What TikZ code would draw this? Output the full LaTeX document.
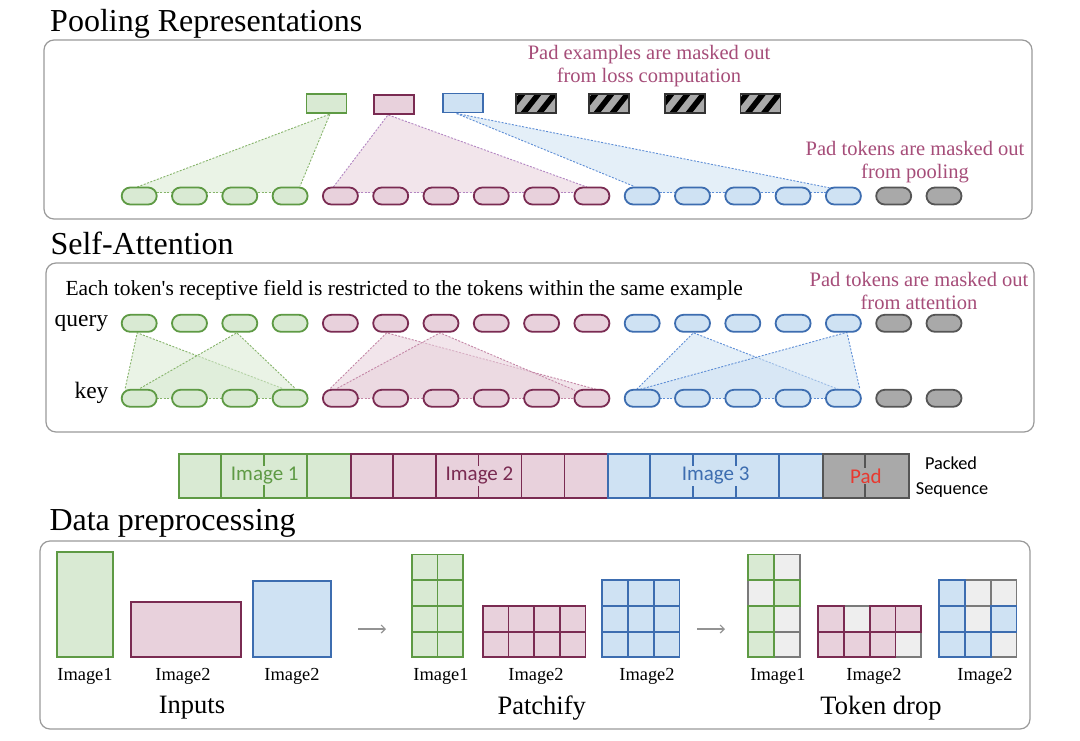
\documentclass[tikz,border=0pt]{standalone}
\usepackage{fontspec}
\setmainfont{Liberation Serif}
\newfontfamily\calfont{Carlito}
\usetikzlibrary{calc,arrows.meta}
\pgfdeclarelayer{bg}
\pgfsetlayers{bg,main}
\definecolor{gF}{HTML}{D9EAD3}
\definecolor{gD}{HTML}{5E9A44}
\definecolor{pF}{HTML}{E8D1DC}
\definecolor{pD}{HTML}{7A2B52}
\definecolor{bF}{HTML}{CFE2F3}
\definecolor{bD}{HTML}{3D6DB0}
\definecolor{xF}{HTML}{A9A9A9}
\definecolor{xD}{HTML}{555555}
\definecolor{notec}{HTML}{A64D79}
\definecolor{panelc}{HTML}{9A9A9A}
\definecolor{dF}{HTML}{EEEEEE}
\definecolor{dD}{HTML}{7A7A7A}
\definecolor{padred}{HTML}{E8392F}
\definecolor{gL}{HTML}{86B46A}
\definecolor{pL}{HTML}{B386C2}
\definecolor{pL2}{HTML}{C486A6}
\definecolor{bL}{HTML}{5E8ED6}
\newcommand\fsz[2]{\fontsize{#1}{#2}\selectfont}
\newcommand\tri[6]{%
  \fill[#1,fill opacity=.55] (#3) -- (#4) -- (#4|-#6) -- (#5|-#6) -- (#5) -- cycle;
  \draw[#2,dl] (#4) -- (#3) -- (#5);}
\newcommand\pgrid[6]{%
  \foreach \c in {1,...,#3} \foreach \r in {1,...,#4}
    \draw[#6, fill=#5, line width=1.8pt] ({#1+(\c-1)*25.7},{#2+(\r-1)*25.7}) rectangle ++(25.7,25.7);}
\begin{document}
\begin{tikzpicture}[x=1pt,y=-1pt,
  panel/.style={draw=panelc, line width=1.2pt, rounded corners=10pt},
  tok/.style={minimum width=35pt, minimum height=17pt, rounded corners=8.5pt, line width=1.8pt, inner sep=0pt, outer sep=0pt},
  tg/.style={tok, fill=gF, draw=gD},
  tp/.style={tok, fill=pF, draw=pD},
  tb/.style={tok, fill=bF, draw=bD},
  tx/.style={tok, fill=xF, draw=xD},
  dl/.style={dash pattern=on 2pt off 1.5pt, line width=0.9pt},
  note/.style={text=notec, align=center, font=\fsz{20.5}{22.5}},
  title/.style={anchor=base west, font=\fsz{32}{36}},
  lbl/.style={font=\fsz{18.4}{20}},
  big/.style={font=\fsz{26.5}{30}},
  top/.style={minimum width=40pt, minimum height=19pt, line width=1.7pt, inner sep=0pt},
  hatch/.style={draw=black!80, fill=xF, minimum width=40pt, minimum height=19pt, line width=1.2pt, inner sep=0pt,
    path picture={\foreach \k in {-1,0,1} \fill[black] ($(path picture bounding box.south west)+(\k*16+4,0)$) -- ++(7,0) -- ++(15,-19) -- ++(-7,0) -- cycle;}},
  seg/.style={line width=1.8pt, minimum height=44pt, inner sep=0pt, anchor=north west},
  seglbl/.style={font=\calfont\fsz{21}{24}, inner sep=1pt},
  arr/.style={-{Straight Barb[length=4pt,width=8pt]}, draw=gray!85, line width=1.2pt}
]
\useasboundingbox (0,0) rectangle (1080,740);
\begin{pgfonlayer}{bg}
  \fill[white] (0,0) rectangle (1080,740);
  \draw[panel] (44,40) rectangle (1032,219);
  \draw[panel] (46,263) rectangle (1034,432);
  \draw[panel] (40,541) rectangle (1030,729);
\end{pgfonlayer}

% titles
\node[title] (t1) at (46.7,31.7) {Pooling Representations};
\node[title] (t2) at (47,254.7) {Self-Attention};
\node[title] (t3) at (46,530) {Data preprocessing};

% ---------- pooling ----------
\node[note] (n1) at (649,66) {Pad examples are masked out\\from loss computation};
\node[note] (n2) at (915,162) {Pad tokens are masked out\\from pooling};
\node[top, draw=gD, fill=gF] (gtop) at (326.5,103.7) {};
\node[top, draw=pD, fill=pF] (ptop) at (393.7,104.5) {};
\node[top, draw=bD, fill=bF] (btop) at (462.7,103) {};
\node[hatch] (h1) at (536,103.5) {};
\node[hatch] (h2) at (609,103.5) {};
\node[hatch] (h3) at (685,103.5) {};
\node[hatch] (h4) at (760.4,103.5) {};

\foreach \i in {1,...,4}   \node[tg] (p\i) at ({139.2+50.3*(\i-1)},196) {};
\foreach \i in {5,...,10}  \node[tp] (p\i) at ({139.2+50.3*(\i-1)},196) {};
\foreach \i in {11,...,15} \node[tb] (p\i) at ({139.2+50.3*(\i-1)},196) {};
\foreach \i in {16,17}     \node[tx] (p\i) at ({139.2+50.3*(\i-1)},196) {};

\coordinate (pb) at ($(p1)+(0,-3.5)$);
\coordinate (gA) at ($(gtop.south)+(3.5,0)$);
\coordinate (gLp) at ($(p1)+(-2,-9)$);
\coordinate (gRp) at ($(p4)+(10,-10)$);
\coordinate (pA) at ($(ptop.south)+(-5.7,0)$);
\coordinate (pLp) at ($(p5)+(-7,-9)$);
\coordinate (pRp) at ($(p10)+(-5,-9)$);
\coordinate (bA) at ($(btop.south)+(-6.7,0)$);
\coordinate (bLp) at ($(p11)+(-9,-10)$);
\coordinate (bRp) at ($(p15)+(-13,-8)$);
\begin{pgfonlayer}{bg}
  \tri{gF}{gL}{gA}{gLp}{gRp}{pb}
  \tri{pF}{pL}{pA}{pLp}{pRp}{pb}
  \tri{bF}{bL}{bA}{bLp}{bRp}{pb}
  \draw[gL,dl] (p1|-pb) -- (p4|-pb);
  \draw[pL,dl] (p5|-pb) -- (p10|-pb);
  \draw[bL,dl] (p11|-pb) -- (p15|-pb);
\end{pgfonlayer}

% ---------- self-attention ----------
\node[anchor=base west, font=\fsz{21.5}{24}] (s1) at (62,295) {Each token\textquotesingle s receptive field is restricted to the tokens within the same example};
\node[note] (n3) at (919,291) {Pad tokens are masked out\\from attention};
\node[anchor=base east, font=\fsz{23.5}{26}] (qlab) at (111.7,326.7) {query};
\node[anchor=base east, font=\fsz{23.5}{26}] (klab) at (112,398.3) {key};

\foreach \i in {1,...,4}   {\node[tg] (q\i) at ({139.2+50.3*(\i-1)},323.3) {}; \node[tg] (k\i) at ({139.2+50.3*(\i-1)},398.3) {};}
\foreach \i in {5,...,10}  {\node[tp] (q\i) at ({139.2+50.3*(\i-1)},323.3) {}; \node[tp] (k\i) at ({139.2+50.3*(\i-1)},398.3) {};}
\foreach \i in {11,...,15} {\node[tb] (q\i) at ({139.2+50.3*(\i-1)},323.3) {}; \node[tb] (k\i) at ({139.2+50.3*(\i-1)},398.3) {};}
\foreach \i in {16,17}     {\node[tx] (q\i) at ({139.2+50.3*(\i-1)},323.3) {}; \node[tx] (k\i) at ({139.2+50.3*(\i-1)},398.3) {};}

\coordinate (aG1) at ($(q1.south)+(-2,1)$);
\coordinate (lG1) at ($(k1)+(-14,-10)$);
\coordinate (rG1) at ($(k4)+(-8,-10)$);
\coordinate (aG2) at ($(q3.south)+(-3,1)$);
\coordinate (lG2) at ($(k1)+(1,-10)$);
\coordinate (rG2) at ($(k4)+(5,-10)$);
\coordinate (aP1) at ($(q6.south)+(-4,1)$);
\coordinate (lP1) at ($(k5)+(-10,-10)$);
\coordinate (rP1) at ($(k10)+(8,-8)$);
\coordinate (aP2) at ($(q7.south)+(-1,1)$);
\coordinate (lP2) at ($(k5)+(-3,-10)$);
\coordinate (rP2) at ($(k10)+(-17,-8)$);
\coordinate (aB1) at ($(q12.south)+(1,1)$);
\coordinate (lB1) at ($(k11)+(-5.5,-9)$);
\coordinate (rB1) at ($(k15)+(-5,-9)$);
\coordinate (aB2) at ($(q15.south)+(3.5,0.5)$);
\coordinate (lB2) at ($(k11)+(-2,-9)$);
\coordinate (rB2) at ($(k15)+(16.5,-9)$);
\begin{pgfonlayer}{bg}
  \tri{gF}{gL}{aG1}{lG1}{rG1}{k1}
  \tri{gF}{gL}{aG2}{lG2}{rG2}{k1}
  \tri{pF}{pL2}{aP1}{lP1}{rP1}{k1}
  \tri{pF}{pL2}{aP2}{lP2}{rP2}{k1}
  \tri{bF}{bL}{aB1}{lB1}{rB1}{k1}
  \tri{bF}{bL}{aB2}{lB2}{rB2}{k1}
  \draw[gL,dl] (k1) -- (k4);
  \draw[pL2,dl] (k5) -- (k10);
  \draw[bL,dl] (k11) -- (k15);
\end{pgfonlayer}

% ---------- packed sequence ----------
\node[seg, draw=gD, fill=gF, minimum width=171.76pt] (sg) at (178,453) {};
\node[seg, draw=pD, fill=pF, minimum width=257.64pt] (sp) at (349.76,453) {};
\node[seg, draw=bD, fill=bF, minimum width=214.7pt] (sb) at (607.4,453) {};
\node[seg, draw=xD, fill=xF, minimum width=85.88pt] (sx) at (822.1,453) {};
\foreach \i in {1,2,3} \draw[gD, line width=1.8pt] ({178+42.94*\i},453) -- ++(0,44);
\foreach \i in {5,...,9} \draw[pD, line width=1.8pt] ({178+42.94*\i},453) -- ++(0,44);
\foreach \i in {11,...,14} \draw[bD, line width=1.8pt] ({178+42.94*\i},453) -- ++(0,44);
\draw[xD, line width=1.8pt] ({178+42.94*16},453) -- ++(0,44);
\node[seglbl, text=gD, fill=gF] (lbl1) at (sg.center) {Image 1};
\node[seglbl, text=pD, fill=pF] (lbl2) at (sp.center) {Image 2};
\node[seglbl, text=bD, fill=bF] (lbl3) at (sb.center) {Image 3};
\node[seglbl, text=padred, fill=xF] (lbl4) at (sx.center) {Pad};
\node[font=\calfont\fsz{18.3}{20}] (pk1) at (951,463) {Packed};
\node[font=\calfont\fsz{18.3}{20}] (pk2) at (952,490) {Sequence};

% ---------- data preprocessing ----------
\draw[gD, fill=gF, line width=1.8pt] (57.3,551.7) rectangle (112.7,657.3);
\draw[pD, fill=pF, line width=1.8pt] (130.7,601.7) rectangle (240.7,657.3);
\draw[bD, fill=bF, line width=1.8pt] (253.3,581) rectangle (330.7,657.3);
\node[lbl] (i1) at (85,676) {Image1};
\node[lbl] (i2) at (183,676) {Image2};
\node[lbl] (i3) at (292,676) {Image2};
\node[big] (inp) at (192,708) {Inputs};

\pgrid{411.7}{554.5}{2}{4}{gF}{gD}
\pgrid{482.7}{605.9}{4}{2}{pF}{pD}
\pgrid{602.3}{580.2}{3}{3}{bF}{bD}
\node[lbl] (j1) at (441,676) {Image1};
\node[lbl] (j2) at (536,676) {Image2};
\node[lbl] (j3) at (647,676) {Image2};
\node[big] (pat) at (541.7,708) {Patchify};

% token drop: gray cells first, coloured on top
\foreach \c/\r in {2/1,1/2,2/3,2/4} \draw[dD, fill=dF, line width=1.8pt] ({748.3+(\c-1)*25.7},{554.5+(\r-1)*25.7}) rectangle ++(25.7,25.7);
\foreach \c/\r in {1/1,2/2,1/3,1/4} \draw[gD, fill=gF, line width=1.8pt] ({748.3+(\c-1)*25.7},{554.5+(\r-1)*25.7}) rectangle ++(25.7,25.7);
\foreach \c/\r in {2/1,4/2} \draw[dD, fill=dF, line width=1.8pt] ({818.3+(\c-1)*25.7},{605.9+(\r-1)*25.7}) rectangle ++(25.7,25.7);
\foreach \c/\r in {1/1,3/1,4/1,1/2,2/2,3/2} \draw[pD, fill=pF, line width=1.8pt] ({818.3+(\c-1)*25.7},{605.9+(\r-1)*25.7}) rectangle ++(25.7,25.7);
\foreach \c/\r in {2/1,3/1,2/2,3/3} \draw[dD, fill=dF, line width=1.8pt] ({939.3+(\c-1)*25.7},{580.2+(\r-1)*25.7}) rectangle ++(25.7,25.7);
\foreach \c/\r in {1/1,1/2,3/2,1/3,2/3} \draw[bD, fill=bF, line width=1.8pt] ({939.3+(\c-1)*25.7},{580.2+(\r-1)*25.7}) rectangle ++(25.7,25.7);
\node[lbl] (m1) at (778,676) {Image1};
\node[lbl] (m2) at (874,676) {Image2};
\node[lbl] (m3) at (985,676) {Image2};
\node[big] (tdr) at (881,708) {Token drop};

\coordinate (ar1s) at (358,629);
\coordinate (ar1e) at (386,629);
\coordinate (ar2s) at (697,629);
\coordinate (ar2e) at (725,629);
\draw[arr] (ar1s) -- (ar1e);
\draw[arr] (ar2s) -- (ar2e);
\end{tikzpicture}
\end{document}
